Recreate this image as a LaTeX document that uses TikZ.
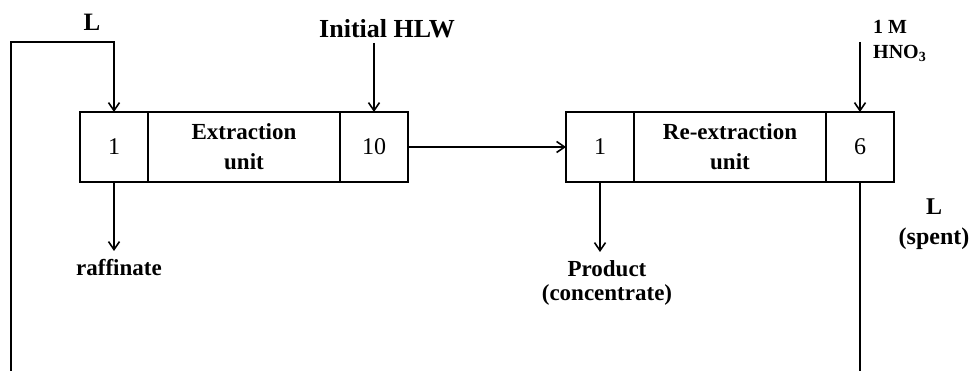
\documentclass[tikz,border=0pt]{standalone}
\usepackage{fontspec}
\setmainfont{Liberation Serif}
\usetikzlibrary{arrows.meta, positioning}

\tikzset{
    cell/.style={draw, line width=1.6pt, minimum width=68pt, minimum height=70pt,
        inner sep=0pt, outer sep=0pt, font=\fontsize{24}{26}\selectfont},
    unitbox/.style={cell, minimum width=192pt, align=center,
        font=\fontsize{23}{30}\selectfont\bfseries},
    lbl/.style={inner xsep=0pt, inner ysep=8pt, align=center,
        font=\fontsize{23}{24}\selectfont\bfseries},
    flow/.style={line width=1.6pt, -{Straight Barb[length=8pt, width=11pt]}},
    pipe/.style={line width=1.6pt},
}

\begin{document}
\begin{tikzpicture}[x=1pt, y=-1pt]
    \useasboundingbox (0,0) rectangle (972,371);

    % Extraction unit
    \node[cell] (c1) at (114,147) {1};
    \node[unitbox, right=0pt of c1] (ext) {Extraction\\unit};
    \node[cell, right=0pt of ext] (c10) {10};

    % Re-extraction unit
    \node[cell] (r1) at (600,147) {1};
    \node[unitbox, right=0pt of r1] (rext) {Re-extraction\\unit};
    \node[cell, right=0pt of rext] (r6) {6};

    % Labels
    \node[lbl, anchor=base, font=\fontsize{25}{26}\selectfont\bfseries] (solv) at (92,31) {L};
    \node[lbl, anchor=south, inner ysep=5pt, font=\fontsize{26}{28}\selectfont\bfseries] (hlw) at (387,43) {Initial HLW};
    \node[lbl, anchor=north west, inner sep=0pt, align=left, font=\fontsize{20}{25}\selectfont\bfseries] (acid) at (873,20) {1 M\\HNO\textsubscript{3}};
    \node[lbl, anchor=north] (raff) at (119,251) {raffinate};
    \node[lbl, anchor=north] (prod) at (607,252) {Product\\(concentrate)};
    \node[lbl, anchor=north, inner sep=0pt, font=\fontsize{24}{30}\selectfont\bfseries] (spent) at (934,199) {L\\(spent)};

    % Loop ends and feed point
    \coordinate (loopbot) at (11,371);
    \coordinate (loopcorner) at (11,42);
    \coordinate (acidin) at (860,42);
    \coordinate (spentbot) at (860,371);

    % Streams
    \draw[flow] (loopbot) |- (c1.north |- loopcorner) -- (c1.north);
    \draw[flow] (c10.north |- hlw.south) -- (c10.north);
    \draw[flow] (c10.east) -- (r1.west);
    \draw[flow] (r6.north |- acidin) -- (r6.north);
    \draw[flow] (c1.south) -- (c1.south |- raff.north);
    \draw[flow] (r1.south) -- (r1.south |- prod.north);
    \draw[pipe] (r6.south) -- (r6.south |- spentbot);

\end{tikzpicture}
\end{document}
